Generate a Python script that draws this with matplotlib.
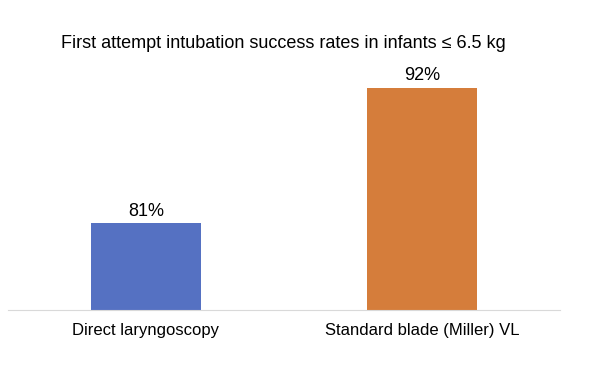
import matplotlib
matplotlib.use('Agg')
import matplotlib.pyplot as plt

categories = ["Direct laryngoscopy", "Standard blade (Miller) VL"]
success_rates = [81, 92]
bar_labels = ["81%", "92%"]
bar_colors = ["#5571C2", "#D57D3B"]

plt.rcParams['font.family'] = ['Liberation Sans', 'DejaVu Sans']

fig = plt.figure(figsize=(5.99, 3.65), dpi=100)
ax = fig.add_axes([8 / 599, 55 / 365, 552 / 599, 240 / 365])

x = range(len(categories))
bars = ax.bar(x, success_rates, width=0.4, color=bar_colors, bottom=0)
ax.set_xlim(-0.5, 1.5)
ax.set_ylim(74, 74 + 240 / 12.36)

for b, lab in zip(bars, bar_labels):
    ax.text(b.get_x() + b.get_width() / 2, b.get_height() + 0.25, lab,
            ha='center', va='bottom', fontsize=13)

ax.set_xticks(list(x))
ax.set_xticklabels(categories, fontsize=12)
ax.tick_params(axis='x', length=0, pad=9)
ax.set_yticks([])
for s in ['top', 'right', 'left']:
    ax.spines[s].set_visible(False)
ax.spines['bottom'].set_color('#d9d9d9')
ax.spines['bottom'].set_linewidth(0.8)

fig.text(283 / 599, 1 - 44 / 365, "First attempt intubation success rates in infants \u2264 6.5 kg",
         ha='center', va='center', fontsize=13)

fig.savefig("out.png", dpi=100)
